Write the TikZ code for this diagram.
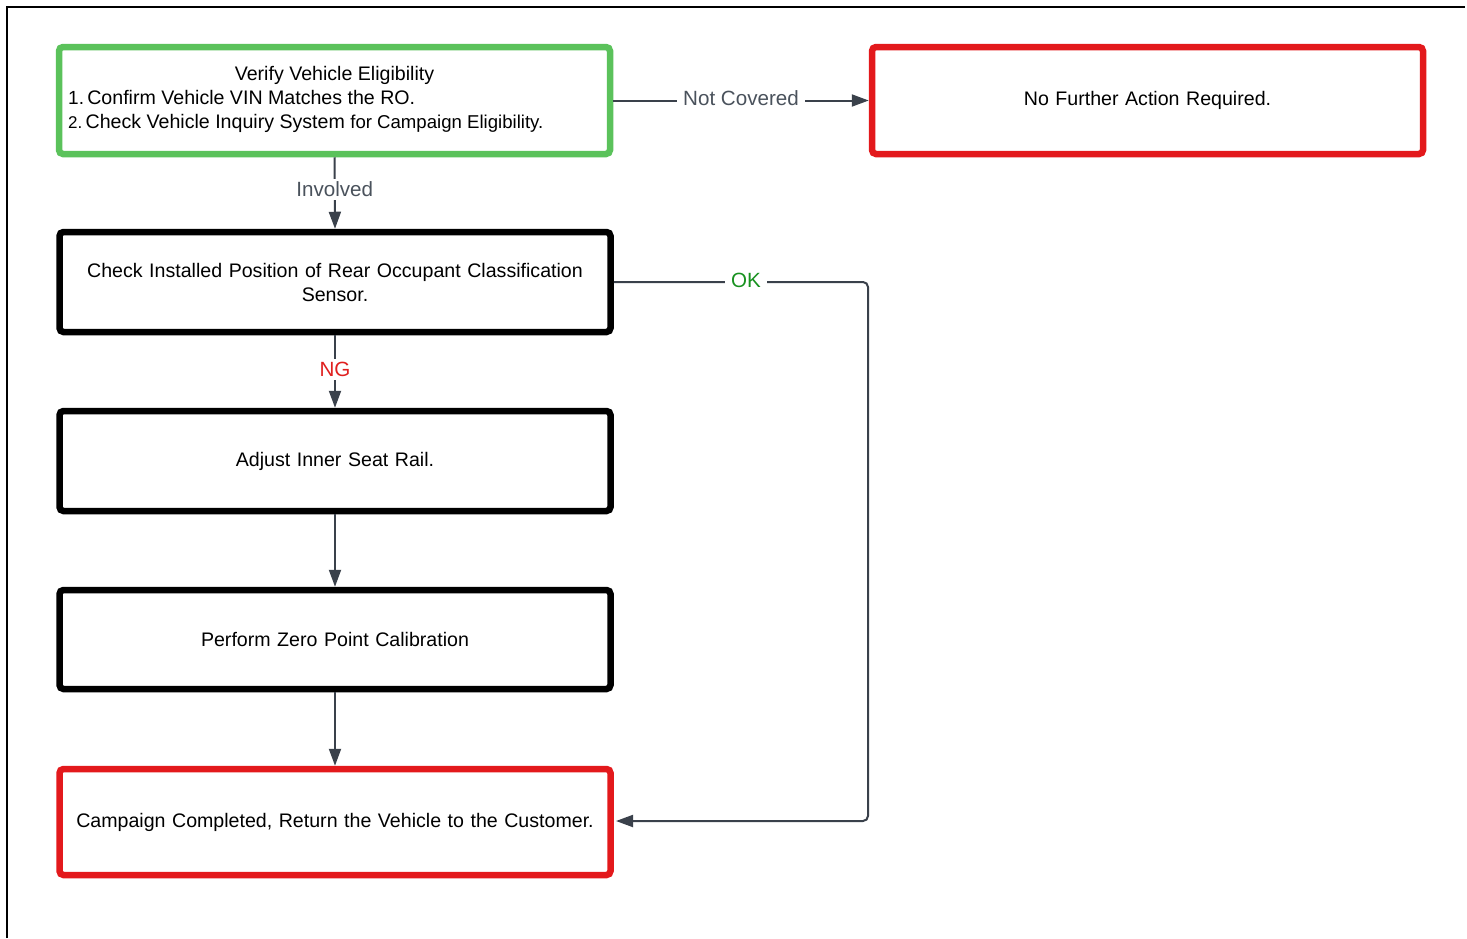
\documentclass[tikz,border=0pt]{standalone}
\usepackage{fontspec}
\setmainfont{Liberation Sans}
\usetikzlibrary{arrows.meta}
\definecolor{boxgreen}{HTML}{5BC25B}
\definecolor{boxred}{HTML}{E3191C}
\definecolor{arrowgray}{HTML}{3A414B}
\definecolor{labelgray}{HTML}{4A525C}
\definecolor{okgreen}{HTML}{17911F}
\definecolor{ngred}{HTML}{E0201F}
\tikzset{
  box/.style={draw, line width=6.5pt, rounded corners=4pt, rectangle, inner sep=0pt,
    minimum width=551pt, minimum height=100pt, align=center, text width=540pt,
    font=\fontsize{19.6}{24}\selectfont},
  greenbox/.style={box, draw=boxgreen},
  redbox/.style={box, draw=boxred},
  blackbox/.style={box, draw=black},
  conn/.style={draw=arrowgray, line width=2pt, -{Triangle[length=17pt,width=12pt]}},
  lbl/.style={fill=white, inner sep=6pt, font=\fontsize{20.6}{24}\selectfont},
  txt/.style={inner sep=0pt, font=\fontsize{19.6}{24}\selectfont},
  frame/.style={draw=black, line width=1.5pt}
}
\begin{document}
\begin{tikzpicture}[x=1pt,y=-1pt]
\useasboundingbox (0,0) rectangle (1467,938);
% frame
\coordinate (f1) at (7,938);
\coordinate (f2) at (7,7);
\coordinate (f3) at (1465,7);
\draw[frame] (f1) -- (f2) -- (f3);
% boxes
\node[greenbox, minimum width=551pt, minimum height=107pt] (verify) at (334.5,100.5) {};
\node[txt, anchor=base] (t1a) at (334.5,80) {Verify Vehicle Eligibility};
\node[txt, anchor=base west] (t1b) at (68,104) {{\fontsize{19}{24}\selectfont 1.}\,Confirm Vehicle VIN Matches the RO.};
\node[txt, anchor=base west] (t1c) at (68,128) {{\fontsize{17}{24}\selectfont 2.}\,Check Vehicle Inquiry System {\fontsize{18.6}{24}\selectfont for Campaign Eligibility.}};
\node[redbox, minimum width=551pt, minimum height=107pt] (nofurther) at (1147.5,100.5) {No Further Action Required.};
\node[blackbox] (check) at (335,282) {Check Installed Position of Rear Occupant Classification\\Sensor.};
\node[blackbox] (adjust) at (335,461) {Adjust Inner Seat Rail.};
\node[blackbox, minimum height=99pt] (zero) at (335,639.5) {Perform Zero Point Calibration};
\node[redbox, minimum height=106pt] (done) at (335,822) {Campaign Completed, Return the Vehicle to the Customer.};
% connectors
\draw[conn] (verify.east) -- node[lbl, text=labelgray, yshift=2pt] (lnc) {Not Covered} (nofurther.west);
\draw[conn] (verify.south) -- node[lbl, text=labelgray, inner sep=3pt, pos=0.45] (linv) {Involved} (check.north);
\draw[conn] (check.south) -- node[lbl, text=ngred, inner sep=3pt, pos=0.47] (lng) {NG} (adjust.north);
\draw[conn] (adjust.south) -- (zero.north);
\draw[conn] (zero.south) -- (done.north);
\coordinate (okc1) at (868,282);
\coordinate (okc2) at (868,821);
\coordinate (okend) at (616,821);
\draw[conn, rounded corners=5pt] (check.east) -- node[lbl, text=okgreen, pos=0.52, yshift=2pt] (lok) {OK} (okc1) -- (okc2) -- (okend);
\end{tikzpicture}
\end{document}
